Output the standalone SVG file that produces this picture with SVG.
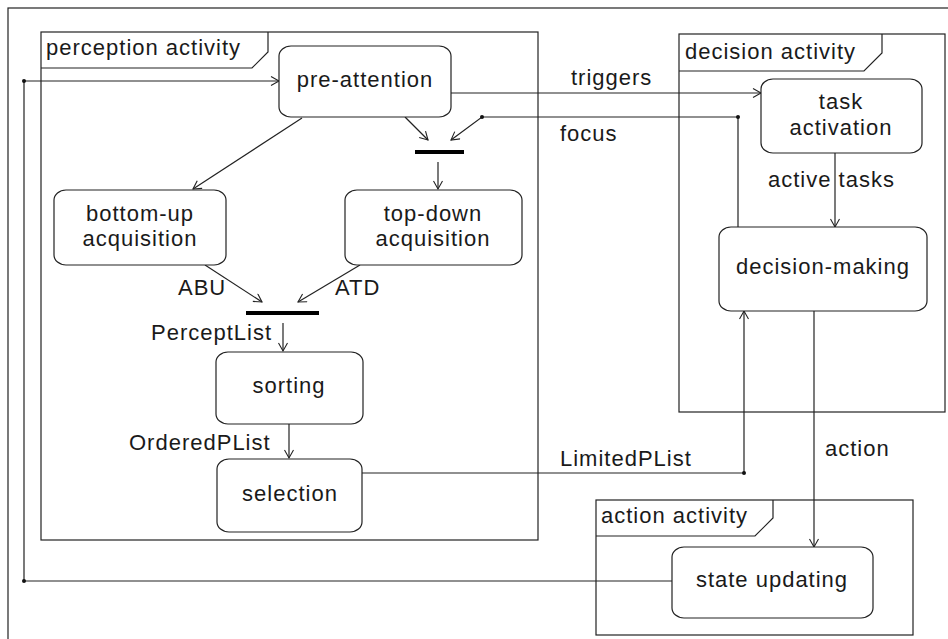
<svg xmlns="http://www.w3.org/2000/svg" width="948" height="639" viewBox="0 0 948 639">
<defs>
<marker id="arr" markerWidth="12" markerHeight="12" refX="9" refY="5" orient="auto" markerUnits="userSpaceOnUse">
<path d="M1,0.5 L9,5 L1,9.5" fill="none" stroke="#222" stroke-width="1.1"/>
</marker>
<marker id="dot" markerWidth="6" markerHeight="6" refX="3" refY="3" markerUnits="userSpaceOnUse">
<circle cx="3" cy="3" r="2" fill="#111"/>
</marker>
</defs>
<style>
text{font-family:"Liberation Sans",Arial,sans-serif;font-size:22px;fill:#1a1a1a;letter-spacing:1px}
.c{text-anchor:middle}
.node{fill:#fff;stroke:#222;stroke-width:1.2}
.frame{fill:none;stroke:#222;stroke-width:1.2}
.ln{fill:none;stroke:#222;stroke-width:1.2}
.bar{fill:#000}
</style>
<rect width="948" height="639" fill="#fff"/>
<rect x="8" y="8" width="950" height="650" fill="none" stroke="#222" stroke-width="1.2"/>

<g id="perception-activity">
<rect class="frame" x="41" y="32" width="497" height="508"/>
<path class="frame" d="M41,68 L252,68 L268,52 L268,32"/>
<text x="46" y="55">perception activity</text>
</g>
<g id="decision-activity">
<rect class="frame" x="679" y="34" width="266" height="378"/>
<path class="frame" d="M679,71 L864,71 L882,53 L882,34"/>
<text x="685" y="59">decision activity</text>
</g>
<g id="action-activity">
<rect class="frame" x="596" y="500" width="317" height="135"/>
<path class="frame" d="M596,536 L755,536 L773,518 L773,500"/>
<text x="601" y="523">action activity</text>
</g>

<g id="connectors">
<path class="ln" d="M24,581 L24,81 L279,81" marker-end="url(#arr)"/>
<path class="ln" d="M672,581 L24,581"/>
<circle cx="24" cy="81" r="2" fill="#111"/>
<circle cx="24" cy="581" r="2" fill="#111"/>
<path class="ln" d="M451,93 L761,93" marker-end="url(#arr)"/>
<path class="ln" d="M738,227 L738,117 L482,117 L451,140" marker-end="url(#arr)"/>
<circle cx="738" cy="117" r="2" fill="#111"/>
<circle cx="482" cy="117" r="2" fill="#111"/>
<path class="ln" d="M405,117 L428,140" marker-end="url(#arr)"/>
<path class="ln" d="M302,118 L193,189" marker-end="url(#arr)"/>
<path class="ln" d="M438,162 L438,189" marker-end="url(#arr)"/>
<path class="ln" d="M205,265 L262,302" marker-end="url(#arr)"/>
<path class="ln" d="M360,265 L298,302" marker-end="url(#arr)"/>
<path class="ln" d="M283,323 L283,351" marker-end="url(#arr)"/>
<path class="ln" d="M289,424 L289,458" marker-end="url(#arr)"/>
<path class="ln" d="M362,473 L744,473 L744,311" marker-end="url(#arr)"/>
<circle cx="744" cy="473" r="2" fill="#111"/>
<path class="ln" d="M835,153 L835,227" marker-end="url(#arr)"/>
<path class="ln" d="M814,311 L814,547" marker-end="url(#arr)"/>
<text x="571" y="85">triggers</text>
<text x="560" y="141">focus</text>
<text x="178" y="295">ABU</text>
<text x="335" y="295">ATD</text>
<text x="151" y="340">PerceptList</text>
<text x="129" y="450">OrderedPList</text>
<text x="560" y="466">LimitedPList</text>
<text x="768" y="187">active tasks</text>
<text x="825" y="456">action</text>
</g>

<g id="fork-top"><rect class="bar" x="415" y="150" width="49" height="4"/></g>
<g id="join-acquisition"><rect class="bar" x="246" y="311" width="73" height="4"/></g>

<g id="pre-attention">
<rect class="node" x="279" y="46" width="172" height="71" rx="12" ry="10"/>
<text class="c" x="365" y="87">pre-attention</text>
</g>
<g id="bottom-up-acquisition">
<rect class="node" x="54" y="190" width="172" height="75" rx="12" ry="10"/>
<text class="c" x="140" y="221">bottom-up</text>
<text class="c" x="140" y="246">acquisition</text>
</g>
<g id="top-down-acquisition">
<rect class="node" x="345" y="190" width="177" height="75" rx="12" ry="10"/>
<text class="c" x="433" y="221">top-down</text>
<text class="c" x="433" y="246">acquisition</text>
</g>
<g id="sorting">
<rect class="node" x="216" y="352" width="147" height="72" rx="12" ry="10"/>
<text class="c" x="289" y="393">sorting</text>
</g>
<g id="selection">
<rect class="node" x="217" y="459" width="145" height="73" rx="12" ry="10"/>
<text class="c" x="290" y="501">selection</text>
</g>
<g id="task-activation">
<rect class="node" x="761" y="79" width="161" height="74" rx="12" ry="10"/>
<text class="c" x="841" y="109">task</text>
<text class="c" x="841" y="135">activation</text>
</g>
<g id="decision-making">
<rect class="node" x="719" y="227" width="208" height="84" rx="12" ry="10"/>
<text class="c" x="823" y="274">decision-making</text>
</g>
<g id="state-updating">
<rect class="node" x="672" y="547" width="201" height="71" rx="12" ry="10"/>
<text class="c" x="772" y="587">state updating</text>
</g>
</svg>
